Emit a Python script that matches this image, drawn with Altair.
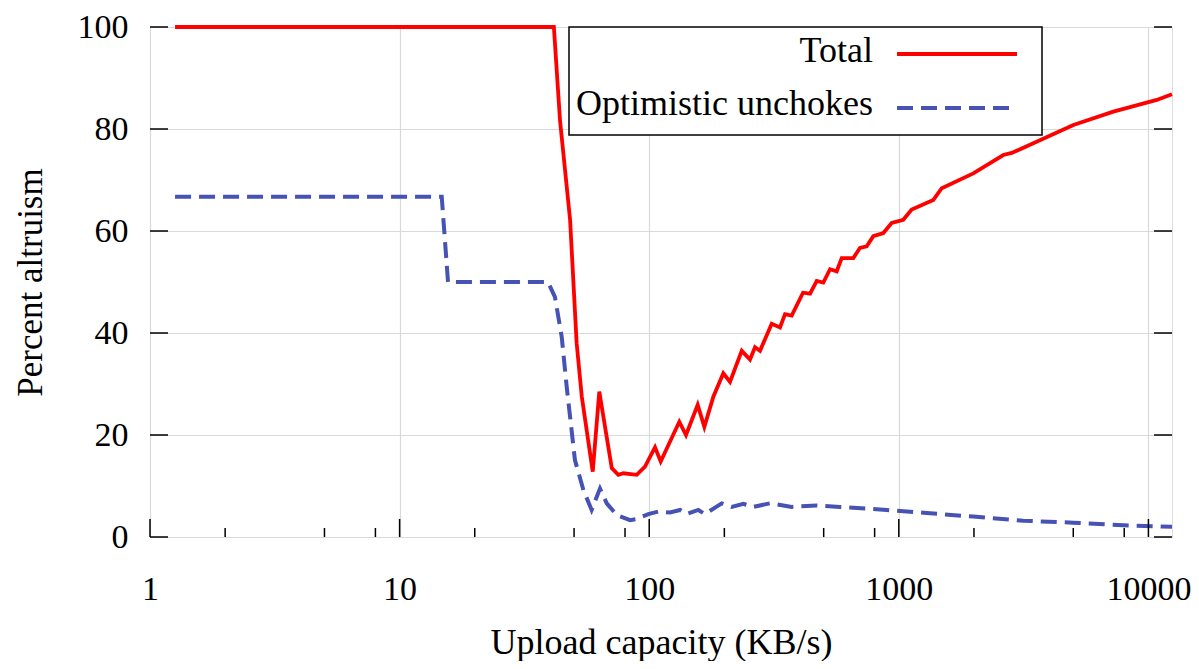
import altair as alt
import pandas as pd

# ---- data ----
red_x = [1.26, 41.5, 43.9, 48.2, 51.2, 53.7, 59.4, 63.1, 70.8, 75.2, 78.8, 89.1, 96.2,
         105.5, 111.2, 132.0, 140.4, 156.4, 166.3, 180.7, 198.1, 210.7, 234.8, 253.4,
         265.4, 277.9, 309.6, 334.2, 350.0, 372.3, 413.2, 441.0, 469.0, 498.3, 530.2,
         563.9, 590.5, 657.3, 699.1, 743.6, 790.2, 866.8, 936.9, 1042, 1126, 1375, 1486,
         1988, 2622, 2834, 3458, 5003, 7235, 10797, 12430]
red_y = [100, 100, 81.8, 62.2, 38, 27.5, 12.8, 28.5, 13.5, 12.2, 12.5, 12.2, 13.8,
         17.6, 14.8, 22.6, 20, 25.9, 21.6, 27.5, 32.1, 30.4, 36.5, 34.8,
         37.2, 36.5, 41.8, 41.1, 43.7, 43.4, 47.9, 47.7, 50.2, 49.9, 52.5,
         52.1, 54.7, 54.7, 56.7, 57, 59, 59.6, 61.6, 62.2, 64.2, 66.1, 68.4,
         71.3, 74.9, 75.3, 77.2, 80.8, 83.4, 85.7, 86.8]

blue_x = [1.26, 14.75, 15.63, 39.3, 41.9, 44.6, 46.7, 50.4, 54.5, 58.8, 63.5, 67.6,
          74.1, 83.8, 89.1, 99.2, 108.8, 121.2, 132.9, 141.3, 157.3, 167.3, 195.2,
          214.1, 238.3, 261.3, 304.8, 372.3, 469.0, 581.4, 894.5, 1293, 1988, 3154,
          5003, 7912, 12430]
blue_y = [66.7, 66.7, 50, 50, 47.1, 39.3, 29.5, 15.1, 9.2, 5.3, 9.5, 6.6,
          4.3, 3.3, 3.5, 4.5, 5, 4.8, 5.3, 4.5, 5.3, 4.5, 6.6,
          5.9, 6.5, 5.9, 6.6, 5.9, 6.2, 5.9, 5.3, 4.7, 4, 3.2,
          2.8, 2.3, 2]

series_names = ["Total", "Optimistic unchokes"]
x_ticks_major = [1, 10, 100, 1000, 10000]
x_ticks_minor = [2, 5, 8, 20, 50, 80, 200, 500, 800, 2000, 5000, 8000]
y_ticks = [0, 20, 40, 60, 80, 100]
x_domain = [1, 12430]
y_domain = [0, 100]

x_title = "Upload capacity (KB/s)"
y_title = "Percent altruism"

RED = "#ff0000"
BLUE = "#4652b4"
FONT = "Liberation Serif, Times New Roman, DejaVu Serif, serif"
W, H = 1022, 510

xscale = alt.Scale(type="log", domain=x_domain, nice=False)
yscale = alt.Scale(domain=y_domain, nice=False, zero=False)

xaxis = alt.Axis(values=x_ticks_major, format=".0f", tickSize=0, domain=False,
                 grid=True, gridColor="#d9d9d9", gridWidth=1.2,
                 labelFont=FONT, labelFontSize=34, labelColor="black",
                 labelPadding=35, labelFlush=False,
                 titleFont=FONT, titleFontSize=36, titleFontWeight="normal",
                 titleColor="black", titleBaseline="alphabetic", titleY=116)
yaxis = alt.Axis(values=y_ticks, tickSize=0, domain=False,
                 grid=True, gridColor="#d9d9d9", gridWidth=1.2,
                 labelFont=FONT, labelFontSize=34, labelColor="black",
                 labelPadding=22,
                 titleFont=FONT, titleFontSize=35, titleFontWeight="normal",
                 titleColor="black", titleBaseline="alphabetic", titleX=-109,
                 titleAngle=270)


def X(field):
    return alt.X(field, scale=xscale, title=x_title, axis=xaxis)


def Y(field):
    return alt.Y(field, scale=yscale, title=y_title, axis=yaxis)


red_df = pd.DataFrame({"cap": red_x, "pct": red_y})
blue_df = pd.DataFrame({"cap": blue_x, "pct": blue_y})

blue = alt.Chart(blue_df).mark_line(
    color=BLUE, strokeWidth=4, strokeDash=[16, 8], strokeCap="butt"
).encode(x=X("cap:Q"), y=Y("pct:Q"))

red = alt.Chart(red_df).mark_line(color=RED, strokeWidth=3.8).encode(
    x=X("cap:Q"), y=Y("pct:Q"))

# inward ticks (gnuplot style)
ytick_df = pd.DataFrame({"pct": y_ticks})
left_ticks = alt.Chart(ytick_df).mark_rule(color="black", strokeWidth=1.5).encode(
    y=Y("pct:Q"), x=alt.value(0), x2=alt.value(18))
right_ticks = alt.Chart(ytick_df).mark_rule(color="black", strokeWidth=1.5).encode(
    y=Y("pct:Q"), x=alt.value(W - 18), x2=alt.value(W))
xmaj_df = pd.DataFrame({"cap": x_ticks_major})
xmin_df = pd.DataFrame({"cap": x_ticks_minor})
bottom_major = alt.Chart(xmaj_df).mark_rule(color="black", strokeWidth=1.5).encode(
    x=X("cap:Q"), y=alt.value(H), y2=alt.value(H - 18))
bottom_minor = alt.Chart(xmin_df).mark_rule(color="black", strokeWidth=1.5).encode(
    x=X("cap:Q"), y=alt.value(H), y2=alt.value(H - 9))

# legend box (gnuplot style: label, then line sample)
one = pd.DataFrame({"k": [0]})
legend_box = alt.Chart(one).mark_rect(
    fill="white", stroke="black", strokeWidth=1.5
).encode(x=alt.value(419), x2=alt.value(892), y=alt.value(0), y2=alt.value(108))

leg_total = alt.Chart(pd.DataFrame({"name": [series_names[0]]})).mark_text(
    font=FONT, fontSize=36, align="right", baseline="alphabetic", color="black"
).encode(text="name:N", x=alt.value(723), y=alt.value(35))
leg_opt = alt.Chart(pd.DataFrame({"name": [series_names[1]]})).mark_text(
    font=FONT, fontSize=36, align="right", baseline="alphabetic", color="black"
).encode(text="name:N", x=alt.value(723), y=alt.value(88))
leg_red = alt.Chart(one).mark_rule(color=RED, strokeWidth=4).encode(
    x=alt.value(747), x2=alt.value(867), y=alt.value(27))
leg_blue = alt.Chart(one).mark_rule(
    color=BLUE, strokeWidth=4, strokeDash=[16, 8], strokeCap="butt"
).encode(x=alt.value(747), x2=alt.value(867), y=alt.value(81))

chart = alt.layer(
    blue, red, left_ticks, right_ticks, bottom_major, bottom_minor,
    legend_box, leg_total, leg_opt, leg_red, leg_blue
).properties(
    width=W, height=H,
    padding={"left": 142, "top": 19, "right": 19, "bottom": 124},
    autosize=alt.AutoSizeParams(type="none"),
).configure_view(
    stroke="black", strokeWidth=1.5
).configure(background="white", font=FONT)

chart.save("out.html", embed_options={"renderer": "svg", "actions": False})
